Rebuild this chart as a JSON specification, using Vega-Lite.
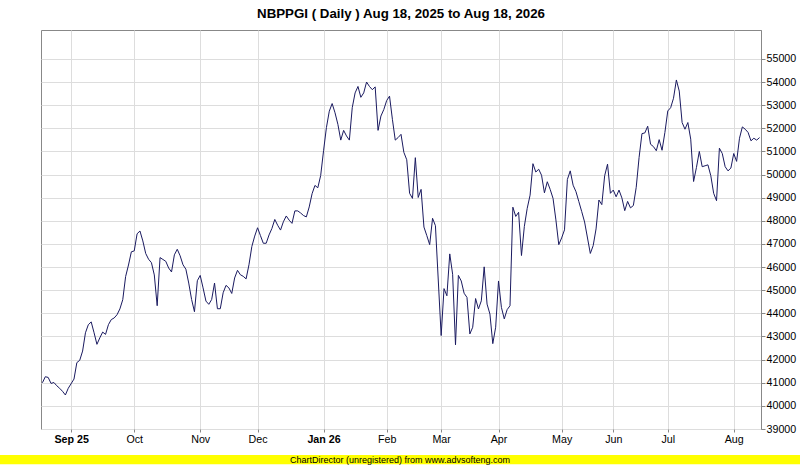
{
  "$schema": "https://vega.github.io/schema/vega-lite/v6.json",
  "background": "white",
  "padding": {"left": 0, "top": 6, "right": 0, "bottom": 0},
  "config": {"view": {"stroke": null}, "font": "Liberation Sans"},
  "spacing": 10,
  "vconcat": [
    {
      "spacing": 0,
      "hconcat": [
        {
          "width": 40,
          "height": 399,
          "data": {"values": [{"s": ""}]},
          "mark": {"type": "text"},
          "encoding": {"text": {"field": "s"}},
          "view": {"stroke": null}
        },
        {
          "width": 720,
          "height": 399,
          "title": {
            "text": "NBPPGI ( Daily ) Aug 18, 2025 to Aug 18, 2026",
            "fontSize": 13.3,
            "fontWeight": "bold",
            "font": "Liberation Sans",
            "color": "#000000",
            "anchor": "middle",
            "offset": 10
          },
          "view": {"stroke": "#888888", "strokeWidth": 1},
          "data": {
            "values": [
              {"day": 0, "value": 41000}, {"day": 1, "value": 41260}, {"day": 2, "value": 41230}, {"day": 3, "value": 40970},
              {"day": 4, "value": 41010}, {"day": 5, "value": 40870}, {"day": 6, "value": 40760}, {"day": 7, "value": 40630},
              {"day": 8, "value": 40470}, {"day": 9, "value": 40760}, {"day": 11, "value": 41160}, {"day": 12, "value": 41870},
              {"day": 13, "value": 41970}, {"day": 14, "value": 42370}, {"day": 15, "value": 43160}, {"day": 16, "value": 43510},
              {"day": 17, "value": 43630}, {"day": 18, "value": 43160}, {"day": 19, "value": 42660}, {"day": 20, "value": 42940},
              {"day": 21, "value": 43190}, {"day": 22, "value": 43090}, {"day": 23, "value": 43510}, {"day": 24, "value": 43730},
              {"day": 25, "value": 43800}, {"day": 26, "value": 43940}, {"day": 27, "value": 44190}, {"day": 28, "value": 44590},
              {"day": 29, "value": 45590}, {"day": 30, "value": 46090}, {"day": 31, "value": 46660}, {"day": 32, "value": 46700},
              {"day": 33, "value": 47440}, {"day": 34, "value": 47560}, {"day": 35, "value": 47130}, {"day": 36, "value": 46590},
              {"day": 37, "value": 46340}, {"day": 38, "value": 46190}, {"day": 39, "value": 45660}, {"day": 40, "value": 44330},
              {"day": 41, "value": 46410}, {"day": 42, "value": 46330}, {"day": 43, "value": 46250}, {"day": 44, "value": 45960},
              {"day": 45, "value": 45790}, {"day": 46, "value": 46530}, {"day": 47, "value": 46770}, {"day": 48, "value": 46490},
              {"day": 49, "value": 46100}, {"day": 50, "value": 45910}, {"day": 51, "value": 45310}, {"day": 52, "value": 44600},
              {"day": 53, "value": 44070}, {"day": 54, "value": 45410}, {"day": 55, "value": 45640}, {"day": 56, "value": 45100},
              {"day": 57, "value": 44530}, {"day": 58, "value": 44390}, {"day": 59, "value": 44600}, {"day": 60, "value": 45310},
              {"day": 61, "value": 44200}, {"day": 62, "value": 44200}, {"day": 63, "value": 44890}, {"day": 64, "value": 45210},
              {"day": 65, "value": 45100}, {"day": 66, "value": 44860}, {"day": 67, "value": 45530}, {"day": 68, "value": 45860},
              {"day": 69, "value": 45670}, {"day": 70, "value": 45600}, {"day": 71, "value": 45490}, {"day": 72, "value": 46100},
              {"day": 73, "value": 46890}, {"day": 74, "value": 47340}, {"day": 75, "value": 47700}, {"day": 76, "value": 47360},
              {"day": 77, "value": 47030}, {"day": 78, "value": 47030}, {"day": 79, "value": 47390}, {"day": 80, "value": 47670},
              {"day": 81, "value": 48060}, {"day": 82, "value": 47810}, {"day": 83, "value": 47600}, {"day": 84, "value": 47960},
              {"day": 85, "value": 48210}, {"day": 86, "value": 48030}, {"day": 87, "value": 47890}, {"day": 88, "value": 48430},
              {"day": 89, "value": 48430}, {"day": 90, "value": 48340}, {"day": 91, "value": 48230}, {"day": 92, "value": 48170},
              {"day": 93, "value": 48600}, {"day": 94, "value": 49170}, {"day": 95, "value": 49530}, {"day": 96, "value": 49430},
              {"day": 97, "value": 49960}, {"day": 98, "value": 51030}, {"day": 99, "value": 52030}, {"day": 100, "value": 52740},
              {"day": 101, "value": 53070}, {"day": 102, "value": 52670}, {"day": 103, "value": 52170}, {"day": 104, "value": 51490},
              {"day": 105, "value": 51910}, {"day": 106, "value": 51670}, {"day": 107, "value": 51490}, {"day": 108, "value": 52890},
              {"day": 109, "value": 53530}, {"day": 110, "value": 53810}, {"day": 111, "value": 53340}, {"day": 112, "value": 53530},
              {"day": 113, "value": 54000}, {"day": 114, "value": 53810}, {"day": 115, "value": 53670}, {"day": 116, "value": 53790},
              {"day": 117, "value": 51910}, {"day": 118, "value": 52530}, {"day": 119, "value": 52810}, {"day": 120, "value": 53200},
              {"day": 121, "value": 53390}, {"day": 122, "value": 52390}, {"day": 123, "value": 51490}, {"day": 124, "value": 51600},
              {"day": 125, "value": 51740}, {"day": 126, "value": 50960}, {"day": 127, "value": 50640}, {"day": 128, "value": 49190},
              {"day": 129, "value": 48970}, {"day": 130, "value": 50730}, {"day": 131, "value": 49010}, {"day": 132, "value": 49360},
              {"day": 133, "value": 47730}, {"day": 134, "value": 47360}, {"day": 135, "value": 46970}, {"day": 136, "value": 48110},
              {"day": 137, "value": 47790}, {"day": 139, "value": 43040}, {"day": 140, "value": 45070}, {"day": 141, "value": 44760},
              {"day": 142, "value": 46570}, {"day": 143, "value": 45690}, {"day": 144, "value": 42640}, {"day": 145, "value": 45640},
              {"day": 146, "value": 45400}, {"day": 147, "value": 44870}, {"day": 148, "value": 44690}, {"day": 149, "value": 43110},
              {"day": 150, "value": 43400}, {"day": 151, "value": 44640}, {"day": 152, "value": 44190}, {"day": 153, "value": 44540},
              {"day": 154, "value": 46010}, {"day": 155, "value": 44400}, {"day": 156, "value": 43970}, {"day": 157, "value": 42690},
              {"day": 158, "value": 43400}, {"day": 159, "value": 45400}, {"day": 160, "value": 44260}, {"day": 161, "value": 43760},
              {"day": 162, "value": 44160}, {"day": 163, "value": 44330}, {"day": 164, "value": 48590}, {"day": 165, "value": 48190},
              {"day": 166, "value": 48370}, {"day": 167, "value": 46500}, {"day": 168, "value": 47760}, {"day": 169, "value": 48540},
              {"day": 170, "value": 49110}, {"day": 171, "value": 50470}, {"day": 172, "value": 50110}, {"day": 173, "value": 50230},
              {"day": 174, "value": 49970}, {"day": 175, "value": 49210}, {"day": 176, "value": 49690}, {"day": 177, "value": 49360},
              {"day": 178, "value": 48970}, {"day": 179, "value": 48040}, {"day": 180, "value": 46970}, {"day": 181, "value": 47260},
              {"day": 182, "value": 47610}, {"day": 183, "value": 49790}, {"day": 184, "value": 50160}, {"day": 185, "value": 49540},
              {"day": 186, "value": 49260}, {"day": 187, "value": 48830}, {"day": 188, "value": 48400}, {"day": 189, "value": 47950},
              {"day": 191, "value": 46590}, {"day": 192, "value": 46930}, {"day": 193, "value": 47650}, {"day": 194, "value": 48900},
              {"day": 195, "value": 48700}, {"day": 196, "value": 49950}, {"day": 197, "value": 50450}, {"day": 198, "value": 49190},
              {"day": 199, "value": 49330}, {"day": 200, "value": 49040}, {"day": 201, "value": 49330}, {"day": 202, "value": 48990},
              {"day": 203, "value": 48440}, {"day": 204, "value": 48840}, {"day": 205, "value": 48560}, {"day": 206, "value": 48660},
              {"day": 207, "value": 49450}, {"day": 208, "value": 50740}, {"day": 209, "value": 51770}, {"day": 210, "value": 51800},
              {"day": 211, "value": 52090}, {"day": 212, "value": 51310}, {"day": 213, "value": 51210}, {"day": 214, "value": 51030},
              {"day": 215, "value": 51510}, {"day": 216, "value": 51050}, {"day": 217, "value": 51820}, {"day": 218, "value": 52750},
              {"day": 219, "value": 52890}, {"day": 220, "value": 53300}, {"day": 221, "value": 54090}, {"day": 222, "value": 53610},
              {"day": 223, "value": 52250}, {"day": 224, "value": 51960}, {"day": 225, "value": 52250}, {"day": 226, "value": 51530},
              {"day": 227, "value": 49700}, {"day": 228, "value": 50310}, {"day": 229, "value": 51000}, {"day": 230, "value": 50340},
              {"day": 231, "value": 50380}, {"day": 232, "value": 50420}, {"day": 233, "value": 49950}, {"day": 234, "value": 49190},
              {"day": 235, "value": 48870}, {"day": 236, "value": 51140}, {"day": 237, "value": 50910}, {"day": 238, "value": 50340},
              {"day": 239, "value": 50160}, {"day": 240, "value": 50280}, {"day": 241, "value": 50910}, {"day": 242, "value": 50570},
              {"day": 243, "value": 51570}, {"day": 244, "value": 52060}, {"day": 245, "value": 51960}, {"day": 246, "value": 51820},
              {"day": 247, "value": 51460}, {"day": 248, "value": 51570}, {"day": 249, "value": 51490}, {"day": 250, "value": 51600}
            ]
          },
          "mark": {"type": "line", "color": "#1a1a60", "strokeWidth": 1, "clip": true},
          "encoding": {
            "x": {
              "field": "day",
              "type": "quantitative",
              "scale": {"domain": [-0.5, 250.5], "nice": false, "zero": false},
              "axis": {
                "title": null,
                "values": [10, 32, 55, 75, 98, 120, 139, 159, 181, 199, 218, 241],
                "labelExpr": "datum.value == 10 ? 'Sep 25' : datum.value == 32 ? 'Oct' : datum.value == 55 ? 'Nov' : datum.value == 75 ? 'Dec' : datum.value == 98 ? 'Jan 26' : datum.value == 120 ? 'Feb' : datum.value == 139 ? 'Mar' : datum.value == 159 ? 'Apr' : datum.value == 181 ? 'May' : datum.value == 199 ? 'Jun' : datum.value == 218 ? 'Jul' : 'Aug'",
                "labelFontWeight": {"condition": {"test": "datum.value == 10 || datum.value == 98", "value": "bold"}, "value": "normal"},
                "grid": true,
                "gridColor": "#dddddd",
                "gridWidth": 1,
                "domain": false,
                "ticks": true,
                "tickSize": 3,
                "tickColor": "#888888",
                "labelFont": "Liberation Sans",
                "labelFontSize": 10.7,
                "labelColor": "#000000",
                "labelPadding": 2,
                "labelFlush": false,
                "labelOverlap": false
              }
            },
            "y": {
              "field": "value",
              "type": "quantitative",
              "scale": {"domain": [39000, 56250], "nice": false, "zero": false},
              "axis": {
                "title": null,
                "orient": "right",
                "values": [39000, 40000, 41000, 42000, 43000, 44000, 45000, 46000, 47000, 48000, 49000, 50000, 51000, 52000, 53000, 54000, 55000],
                "format": "d",
                "grid": true,
                "gridColor": "#dddddd",
                "gridWidth": 1,
                "domain": true,
                "domainColor": "#888888",
                "tickSize": 4,
                "tickColor": "#888888",
                "labelFont": "Liberation Sans",
                "labelFontSize": 10.7,
                "labelColor": "#000000",
                "labelPadding": 1,
                "labelFlush": false,
                "labelOverlap": false
              }
            }
          }
        }
      ]
    },
    {
      "width": 800,
      "height": 9.3,
      "view": {"fill": "#ffff00", "stroke": null},
      "data": {"values": [{"note": "ChartDirector (unregistered) from www.advsofteng.com"}]},
      "mark": {"type": "text", "fontSize": 9, "font": "Liberation Sans", "color": "#000000", "align": "center", "baseline": "middle"},
      "encoding": {"text": {"field": "note"}}
    }
  ]
}
